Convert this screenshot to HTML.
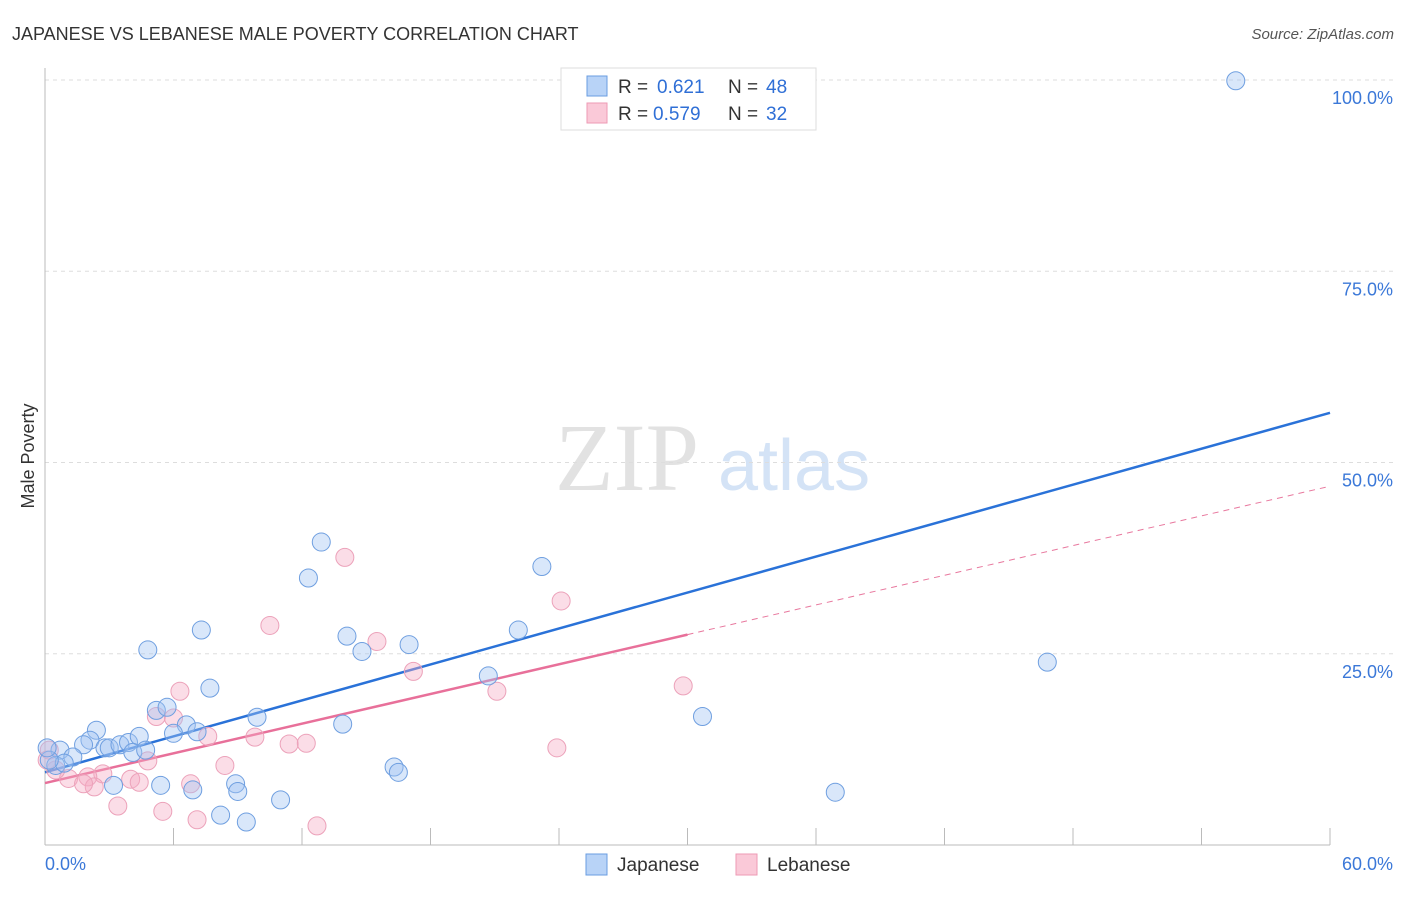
<!DOCTYPE html>
<html><head><meta charset="utf-8"><style>
body{margin:0;background:#fff;font-family:"Liberation Sans",sans-serif;}
</style></head><body>
<svg id="c" width="1406" height="892" xmlns="http://www.w3.org/2000/svg" style="font-family:'Liberation Sans',sans-serif">
<text x="12" y="40" font-size="18" fill="#333">JAPANESE VS LEBANESE MALE POVERTY CORRELATION CHART</text>
<text x="1394" y="39" font-size="15" fill="#555" font-style="italic" text-anchor="end">Source: ZipAtlas.com</text>
<text x="34" y="456" font-size="18" fill="#333" transform="rotate(-90 34 456)" text-anchor="middle">Male Poverty</text>
<g>
<text x="555" y="490" font-size="96" font-family="'Liberation Serif',serif" fill="#e2e2e2">ZIP</text>
<text x="718" y="490" font-size="72" fill="#d4e3f6">atlas</text>
</g>
<g id="grid"></g><g id="axes"></g><g id="lines"></g><g id="pts"></g>
<g>
<rect x="561" y="68" width="255" height="62" fill="#fff" stroke="#ddd"/>
<rect x="587" y="76" width="20" height="20" fill="#b8d3f7" stroke="#6a9ce0"/>
<rect x="587" y="103" width="20" height="20" fill="#fac9d8" stroke="#ee9ab4"/>
<text y="93" font-size="19" fill="#333"><tspan x="618">R =</tspan><tspan x="657" fill="#2f6fd6">0.621</tspan><tspan x="728">N =</tspan><tspan x="766" fill="#2f6fd6">48</tspan></text>
<text y="120" font-size="19" fill="#333"><tspan x="618">R =</tspan><tspan x="653" fill="#2f6fd6">0.579</tspan><tspan x="728">N =</tspan><tspan x="766" fill="#2f6fd6">32</tspan></text>
</g>
<g>
<rect x="586" y="854" width="21" height="21" fill="#b8d3f7" stroke="#6a9ce0"/>
<text x="617" y="871" font-size="19" fill="#333">Japanese</text>
<rect x="736" y="854" width="21" height="21" fill="#fac9d8" stroke="#ee9ab4"/>
<text x="767" y="871" font-size="19" fill="#333">Lebanese</text>
</g>
</svg>
<script>
const yTicks=[25,50,75,100];
const yTickLabels=["25.0%","50.0%","75.0%","100.0%"];
const xTickLabels=["0.0%","60.0%"];
const japX=[55.6,12.9,12.3,23.2,4.8,7.3,14.1,14.8,17.0,22.1,46.8,20.7,7.7,5.2,5.7,6.6,6.0,7.1,9.9,13.9,30.7,2.4,2.1,1.8,0.7,1.3,2.8,3.0,3.5,3.9,4.4,4.1,4.7,0.5,0.9,0.2,3.2,5.4,6.9,8.9,9.0,11.0,8.2,9.4,16.3,16.5,36.9,0.1];
const japY=[99.9,39.6,34.9,36.4,25.5,28.1,27.3,25.3,26.2,28.1,23.9,22.1,20.5,17.6,18.0,15.7,14.6,14.8,16.7,15.8,16.8,15.0,13.7,13.1,12.4,11.5,12.7,12.7,13.1,13.4,14.2,12.1,12.4,10.4,10.7,11.1,7.8,7.8,7.2,8.0,7.0,5.9,3.9,3.0,10.2,9.5,6.9,12.7];
const lebX=[14.0,24.1,10.5,15.5,17.2,6.3,21.1,29.8,5.2,6.0,7.6,9.8,11.4,12.2,4.8,8.4,23.9,2.7,4.0,4.4,3.4,5.5,6.8,7.1,12.7,1.1,2.0,2.3,1.8,0.2,0.5,0.1];
const lebY=[37.6,31.9,28.7,26.6,22.7,20.1,20.1,20.8,16.8,16.6,14.2,14.1,13.2,13.3,11.0,10.4,12.7,9.3,8.6,8.2,5.1,4.4,8.0,3.3,2.5,8.7,8.9,7.6,8.0,12.4,9.8,11.1];
const japFit=[9.5,56.5];
const lebFit=[8.1,46.9];
const lebSolidEnd=30;
const X=v=>45+v*(1285/60), Y=v=>845-v*(765/100);
const NS="http://www.w3.org/2000/svg";
function mk(t,a,p){const e=document.createElementNS(NS,t);for(const k in a)e.setAttribute(k,a[k]);p.appendChild(e);return e;}
const grid=document.getElementById('grid'),axes=document.getElementById('axes'),lines=document.getElementById('lines'),pts=document.getElementById('pts');
yTicks.forEach((t,i)=>{
 const g=mk('line',{x1:45,x2:1393,y1:Y(t),y2:Y(t),stroke:'#ddd','stroke-dasharray':'4,4'},grid);
 
 
 const l=mk('text',{x:1393,y:Y(t)+24,'font-size':18,fill:'#3b78d8','text-anchor':'end'},axes);
 l.textContent=yTickLabels[i];
 
 
});
let a=mk('line',{x1:45,x2:45,y1:68,y2:845,stroke:'#bbb'},axes);


a=mk('line',{x1:45,x2:1330,y1:845,y2:845,stroke:'#bbb'},axes);


for(let i=1;i<=10;i++){const t=mk('line',{x1:X(i*6),x2:X(i*6),y1:828,y2:845,stroke:'#bbb'},axes);
 
 }
[[0,'start',45],[60,'end',1393]].forEach((d,i)=>{const t=mk('text',{x:d[2],y:870,'font-size':18,fill:'#3b78d8','text-anchor':d[1]},axes);t.textContent=xTickLabels[i];
 
 });
function dot(x,y,f,s,n){const c=mk('circle',{cx:X(x),cy:Y(y),r:9,fill:f,stroke:s,'stroke-width':1},pts);
 
 }
lebX.forEach((x,i)=>dot(x,lebY[i],'rgba(245,170,196,0.4)','#eca2ba','lebanese-point'));
japX.forEach((x,i)=>dot(x,japY[i],'rgba(160,196,242,0.4)','#6f9fe0','japanese-point'));
const lf=x=>lebFit[0]+(lebFit[1]-lebFit[0])*x/60;
let l=mk('line',{x1:X(lebSolidEnd),y1:Y(lf(lebSolidEnd)),x2:X(60),y2:Y(lf(60)),stroke:'#e8789e','stroke-width':1,'stroke-dasharray':'6,5'},lines);


l=mk('line',{x1:X(0),y1:Y(lf(0)),x2:X(lebSolidEnd),y2:Y(lf(lebSolidEnd)),stroke:'#e8709a','stroke-width':2.5},lines);


l=mk('line',{x1:X(0),y1:Y(japFit[0]),x2:X(60),y2:Y(japFit[1]),stroke:'#2a72d8','stroke-width':2.5},lines);


</script>
</body></html>
